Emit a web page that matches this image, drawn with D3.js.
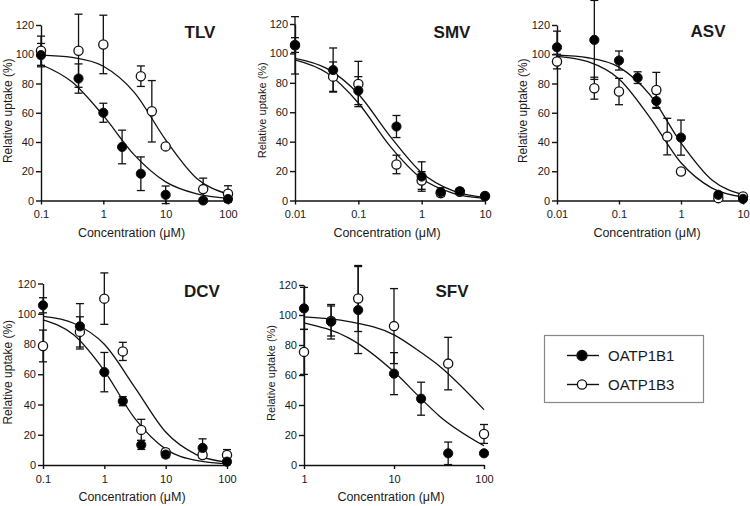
<!DOCTYPE html>
<html><head><meta charset="utf-8">
<script src="https://cdn.jsdelivr.net/npm/d3@7"></script>
<style>
body{margin:0;background:#fff}
svg{display:block}
text{font-family:"Liberation Sans",Arial,Helvetica,sans-serif;fill:#1a1a1a}
</style>
</head><body>
<svg id="chart" width="750" height="506"></svg>
<script>
// ---------------- DATA ----------------
const seriesNames = ["OATP1B1", "OATP1B3"];
const panelNames = ["TLV", "SMV", "ASV", "DCV", "SFV"];
const yTickValues = [0, 20, 40, 60, 80, 100, 120];

// TLV
const tlvXTicks = [0.1, 1, 10, 100];
const tlvConcB1 = [0.1, 0.4, 1, 2, 4, 10, 40, 100];
const tlvB1 = [99.4, 83.4, 60, 36.6, 18.3, 3.9, 0, 1];
const tlvB1Sd = [8, 10, 6.5, 11.5, 11.5, 6, 1, 2];
const tlvConcB3 = [0.1, 0.4, 1, 4, 6, 10, 40, 100];
const tlvB3 = [102.4, 102.4, 106.7, 85, 61, 37, 7.8, 4.6];
const tlvB3Sd = [10, 25, 20, 7, 21, 1, 7.5, 5.5];
const tlvFitConc = [0.1, 0.316, 1, 3.16, 10, 31.6, 100];
const tlvFitB1 = [93, 81, 58, 31, 12.7, 4.5, 1.5];
const tlvFitB3 = [99.4, 97.8, 91.8, 73.8, 41.5, 15.1, 4.3];

// SMV
const smvXTicks = [0.01, 0.1, 1, 10];
const smvConcB1 = [0.01, 0.04, 0.1, 0.4, 1, 2, 4, 10];
const smvB1 = [105.7, 88.7, 74.7, 50.3, 16.3, 5.7, 6.3, 3];
const smvB1Sd = [5, 15, 9.5, 7.5, 10, 3, 2, 1];
const smvConcB3 = [0.01, 0.04, 0.1, 0.4, 1, 2, 4, 10];
const smvB3 = [105.5, 84.2, 79.2, 24.5, 13.6, 5, 6, 3];
const smvB3Sd = [19.5, 10, 15.4, 6.3, 6, 2, 2, 1];
const smvFitConc = [0.01, 0.0316, 0.1, 0.316, 1, 3.16, 10];
const smvFitB1 = [96.7, 89.8, 72.4, 43.8, 18.9, 6.5, 2.0];
const smvFitB3 = [95.6, 86.8, 66.3, 37, 14.9, 4.9, 1.5];

// ASV
const asvXTicks = [0.01, 0.1, 1, 10];
const asvConcB1 = [0.01, 0.04, 0.1, 0.2, 0.4, 1, 4, 10];
const asvB1 = [104.8, 109.8, 95.7, 84, 68, 43, 3.9, 1.1];
const asvB1Sd = [11, 27, 6.5, 4, 5, 12, 1, 1];
const asvConcB3 = [0.01, 0.04, 0.1, 0.4, 0.6, 1, 4, 10];
const asvB3 = [95, 76.8, 74.5, 75.6, 43.7, 19.8, 1.6, 2.7];
const asvB3Sd = [5, 7.5, 9, 12, 12.5, 2, 1, 1];
const asvFitConc = [0.01, 0.0316, 0.1, 0.316, 1, 3.16, 10];
const asvFitB1 = [99.4, 97.6, 91.2, 72.2, 39.4, 14, 4.0];
const asvFitB3 = [98.6, 94.9, 83.1, 56.7, 25.8, 8.5, 2.4];

// DCV
const dcvXTicks = [0.1, 1, 10, 100];
const dcvConcB1 = [0.1, 0.4, 1, 2, 4, 10, 40, 100];
const dcvB1 = [105.6, 91.7, 61.4, 42.2, 13.3, 6.9, 11.3, 2.2];
const dcvB1Sd = [5, 15, 13, 3, 3, 2, 6, 2];
const dcvConcB3 = [0.1, 0.4, 1, 2, 4, 10, 40, 100];
const dcvB3 = [78.7, 88, 110, 75.1, 23.2, 8.4, 6.6, 6.6];
const dcvB3Sd = [10.5, 10, 17, 6, 7, 2, 2, 3.6];
const dcvFitConc = [0.1, 0.316, 1, 3.16, 10, 31.6, 100];
const dcvFitB1 = [95.9, 86.1, 62.3, 30.6, 10.5, 3.0, 0.8];
const dcvFitB3 = [98.2, 93.7, 79.8, 51.2, 21.8, 6.9, 1.9];

// SFV
const sfvXTicks = [1, 10, 100];
const sfvConcB1 = [1, 2, 4, 10, 20, 40, 100];
const sfvB1 = [104.4, 95.5, 103.3, 60.9, 44.2, 7.8, 7.8];
const sfvB1Sd = [14, 11.5, 29, 14, 11, 7.5, 1];
const sfvConcB3 = [1, 2, 4, 10, 40, 100];
const sfvB3 = [75.4, 96, 111, 92.6, 67.6, 20.7];
const sfvB3Sd = [15, 10, 22, 25, 17.5, 6.3];
const sfvFitConc = [1, 3.16, 10, 20, 31.6, 100];
const sfvFitB1 = [94.8, 84.6, 62.1, 44.2, 32.9, 12.8];
const sfvFitB3 = [98.7, 95.6, 86.8, 75, 66.2, 36.9];

// ---------------- LAYOUT ----------------
const panels = [
  {name: panelNames[0], ticks: tlvXTicks, x0: 41, x1: 228, y0: 200.5, y1: 25, title: [200, 38], ylab: [8, 12],
   b1: [tlvConcB1, tlvB1, tlvB1Sd], b3: [tlvConcB3, tlvB3, tlvB3Sd], fit: [tlvFitConc, tlvFitB1, tlvFitB3]},
  {name: panelNames[1], ticks: smvXTicks, x0: 295, x1: 485, y0: 200.5, y1: 24, title: [452, 38], ylab: [262, 11],
   b1: [smvConcB1, smvB1, smvB1Sd], b3: [smvConcB3, smvB3, smvB3Sd], fit: [smvFitConc, smvFitB1, smvFitB3]},
  {name: panelNames[2], ticks: asvXTicks, x0: 557, x1: 743, y0: 200.5, y1: 25, title: [708, 37], ylab: [523, 12],
   b1: [asvConcB1, asvB1, asvB1Sd], b3: [asvConcB3, asvB3, asvB3Sd], fit: [asvFitConc, asvFitB1, asvFitB3]},
  {name: panelNames[3], ticks: dcvXTicks, x0: 43, x1: 227, y0: 465, y1: 283.5, title: [202, 297], ylab: [8, 12],
   b1: [dcvConcB1, dcvB1, dcvB1Sd], b3: [dcvConcB3, dcvB3, dcvB3Sd], fit: [dcvFitConc, dcvFitB1, dcvFitB3]},
  {name: panelNames[4], ticks: sfvXTicks, x0: 304, x1: 484, y0: 465, y1: 285, title: [452, 297], ylab: [271, 11],
   b1: [sfvConcB1, sfvB1, sfvB1Sd], b3: [sfvConcB3, sfvB3, sfvB3Sd], fit: [sfvFitConc, sfvFitB1, sfvFitB3]}
];

const svg = d3.select("#chart");
const ink = "#111";
const R = 4.6;

panels.forEach(p => {
  const g = svg.append("g");
  const x = d3.scaleLog().domain([p.ticks[0], p.ticks[p.ticks.length - 1]]).range([p.x0, p.x1]);
  const y = d3.scaleLinear().domain([0, 120]).range([p.y0, p.y1]);

  // axes
  const xa = g.append("g").attr("transform", `translate(0,${p.y0})`)
    .call(d3.axisBottom(x).tickValues(p.ticks).tickFormat(d => String(d)).tickSize(4).tickSizeOuter(0).tickPadding(6));
  const ya = g.append("g").attr("transform", `translate(${p.x0},0)`)
    .call(d3.axisLeft(y).tickValues(yTickValues).tickSize(5).tickSizeOuter(0).tickPadding(2));
  [xa, ya].forEach(a => {
    a.selectAll("path,line").attr("stroke", ink).attr("stroke-width", 1.4);
    a.selectAll("text").style("font-size", "11px").attr("fill", "#222");
  });

  // axis titles
  g.append("text").attr("x", (p.x0 + p.x1) / 2 - 3).attr("y", p.y0 + 36)
    .attr("text-anchor", "middle").style("font-size", "12.5px").text("Concentration (μM)");
  g.append("text").attr("transform", `translate(${p.ylab[0] + 4},${(p.y0 + p.y1) / 2 - 2}) rotate(-90)`)
    .attr("text-anchor", "middle").style("font-size", p.ylab[1] + "px").text("Relative uptake (%)");

  // title
  g.append("text").attr("x", p.title[0]).attr("y", p.title[1]).attr("text-anchor", "middle")
    .style("font-size", "17px").style("font-weight", "bold").attr("fill", "#000").text(p.name);

  // fitted curves
  const line = d3.line().x(d => x(d[0])).y(d => y(d[1])).curve(d3.curveMonotoneX);
  [p.fit[1], p.fit[2]].forEach(vals => {
    g.append("path").datum(p.fit[0].map((c, i) => [c, vals[i]]))
      .attr("d", line).attr("fill", "none").attr("stroke", ink).attr("stroke-width", 1.3);
  });

  // error bars
  [p.b3, p.b1].forEach(s => {
    const eb = g.append("g");
    s[0].forEach((c, i) => {
      const cx = x(c), top = y(s[1][i] + s[2][i]), bot = y(s[1][i] - s[2][i]);
      eb.append("line").attr("x1", cx).attr("x2", cx).attr("y1", top).attr("y2", bot).attr("stroke", ink).attr("stroke-width", 1.3);
      [top, bot].forEach(yy => eb.append("line").attr("x1", cx - 4).attr("x2", cx + 4)
        .attr("y1", yy).attr("y2", yy).attr("stroke", ink).attr("stroke-width", 1.3));
    });
  });

  // markers: open (OATP1B3) then filled (OATP1B1)
  g.append("g").selectAll("circle").data(p.b3[0].map((c, i) => [c, p.b3[1][i]])).join("circle")
    .attr("cx", d => x(d[0])).attr("cy", d => y(d[1])).attr("r", R)
    .attr("fill", "#fff").attr("stroke", ink).attr("stroke-width", 1.3);
  g.append("g").selectAll("circle").data(p.b1[0].map((c, i) => [c, p.b1[1][i]])).join("circle")
    .attr("cx", d => x(d[0])).attr("cy", d => y(d[1])).attr("r", R)
    .attr("fill", "#000").attr("stroke", ink).attr("stroke-width", 1);
});

// legend
const lg = svg.append("g");
lg.append("rect").attr("x", 544.5).attr("y", 335.5).attr("width", 159).attr("height", 67)
  .attr("fill", "#fff").attr("stroke", "#888").attr("stroke-width", 1.2);
seriesNames.forEach((n, i) => {
  const yy = 355.5 + i * 29;
  lg.append("line").attr("x1", 567).attr("x2", 599).attr("y1", yy).attr("y2", yy).attr("stroke", ink).attr("stroke-width", 1.4);
  lg.append("circle").attr("cx", 582).attr("cy", yy).attr("r", i === 0 ? 5 : 4.6)
    .attr("fill", i === 0 ? "#000" : "#fff").attr("stroke", ink).attr("stroke-width", 1.3);
  lg.append("text").attr("x", 608).attr("y", yy + 5.5).style("font-size", "15px").text(n);
});
</script>
</body></html>
